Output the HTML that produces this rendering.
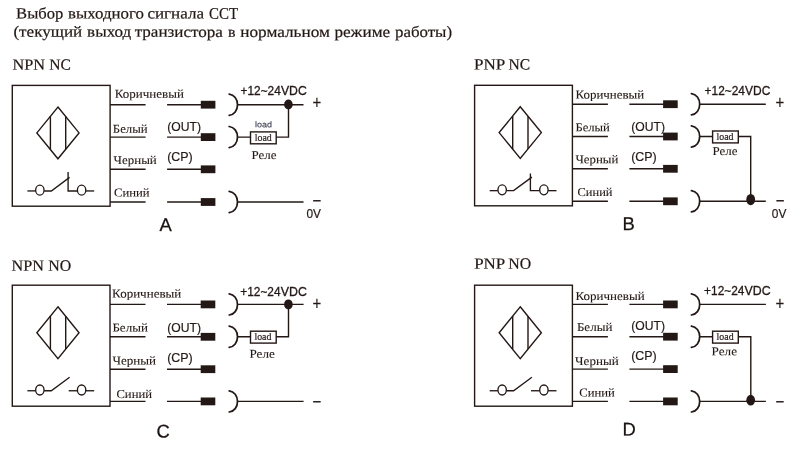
<!DOCTYPE html>
<html lang="ru">
<head>
<meta charset="utf-8">
<title>Выбор выходного сигнала ССТ</title>
<style>
html,body{margin:0;padding:0;background:#fff;}
body{width:800px;height:450px;overflow:hidden;}
svg{display:block;will-change:transform;}
.sf{font-family:"Liberation Serif",serif;}
text.sf{stroke:#231815;stroke-width:0.2px;}
.ss{font-family:"Liberation Sans",sans-serif;stroke:#231815;stroke-width:0.2px;}
text{fill:#231815;stroke:none;}
text.ss{stroke:#231815;}
text.lt{stroke:none;}
text.lb{stroke-width:0.1px;}
text.bd{stroke-width:0.32px;}
text.big{fill:#1a1311;stroke:#1a1311;stroke-width:0.25px;}
text.lu{fill:#45455a;stroke:#45455a;stroke-width:0.15px;}
.blk{fill:#231815;stroke:none;}
</style>
</head>
<body>
<svg width="800" height="450" viewBox="0 0 800 450" stroke="#231815" stroke-width="1.4" stroke-linecap="butt" stroke-linejoin="miter">
<text class="sf" y="18.5" font-size="15.7" transform="matrix(1 0.0005 0 1 0 -0.0083)"><tspan x="16.12" textLength="47.23" lengthAdjust="spacingAndGlyphs">Выбор</tspan> <tspan x="68.1" textLength="75.83" lengthAdjust="spacingAndGlyphs">выходного</tspan> <tspan x="147.45" textLength="56.58" lengthAdjust="spacingAndGlyphs">сигнала</tspan> <tspan x="209.09" textLength="29.06" lengthAdjust="spacingAndGlyphs">ССТ</tspan></text>
<text class="sf" y="36.8" font-size="15.7" transform="matrix(1 0.0005 0 1 0 -0.0071)"><tspan x="13.45" textLength="68.75" lengthAdjust="spacingAndGlyphs">(текущий</tspan> <tspan x="87.1" textLength="44.17" lengthAdjust="spacingAndGlyphs">выход</tspan> <tspan x="134.65" textLength="88.28" lengthAdjust="spacingAndGlyphs">транзистора</tspan> <tspan x="228.11" textLength="7.53" lengthAdjust="spacingAndGlyphs">в</tspan> <tspan x="240.19" textLength="89.71" lengthAdjust="spacingAndGlyphs">нормальном</tspan> <tspan x="334.42" textLength="55.77" lengthAdjust="spacingAndGlyphs">режиме</tspan> <tspan x="395.03" textLength="57.01" lengthAdjust="spacingAndGlyphs">работы)</tspan></text>
<g id="A">
<text class="sf" y="69.7" font-size="15.7" transform="matrix(1 0.0005 0 1 0 -0.0065)"><tspan x="12.53" textLength="32.54" lengthAdjust="spacingAndGlyphs">NPN</tspan> <tspan x="49.25" textLength="21.61" lengthAdjust="spacingAndGlyphs">NC</tspan></text>
<rect x="12.3" y="85.4" width="97.8" height="120.8" fill="none"/>
<path d="M57.95,107 L79.05,132.9 L57.95,158.8 L36.85,132.9 Z" fill="none"/>
<line x1="50.4" y1="116.27" x2="50.4" y2="149.53"/>
<line x1="65.7" y1="116.51" x2="65.7" y2="149.29"/>
<g stroke-width="1.35" fill="none">
<line x1="27.4" y1="190.95" x2="35.5" y2="190.95"/>
<ellipse cx="39.85" cy="190.15" rx="4.2" ry="5"/>
<ellipse cx="81.6" cy="190.15" rx="4.2" ry="5"/>
<line x1="85.9" y1="190.95" x2="94.2" y2="190.95"/>
<path d="M44.2,190.95 L51.3,190.95 L69.6,177.4"/>
<path d="M68.1,172 L68.1,190.95 L77.3,190.95"/>
</g>
<line x1="110.1" y1="104.7" x2="145.6" y2="104.7"/>
<line x1="167.1" y1="104.7" x2="201.6" y2="104.7"/>
<rect class="blk" x="200.8" y="100.8" width="14.6" height="7.8"/>
<line x1="110.1" y1="137.1" x2="145.6" y2="137.1"/>
<line x1="167.1" y1="137.1" x2="201.6" y2="137.1"/>
<rect class="blk" x="200.8" y="133.2" width="14.6" height="7.8"/>
<line x1="110.1" y1="169.3" x2="145.6" y2="169.3"/>
<line x1="167.1" y1="169.3" x2="201.6" y2="169.3"/>
<rect class="blk" x="200.8" y="165.4" width="14.6" height="7.8"/>
<line x1="110.1" y1="202" x2="145.6" y2="202"/>
<line x1="167.1" y1="202" x2="201.6" y2="202"/>
<rect class="blk" x="200.8" y="198.1" width="14.6" height="7.8"/>
<text class="sf lb" x="114.8" y="97.8" font-size="12.0" transform="matrix(1 0.0005 0 1 0 -0.0574)" textLength="69.1" lengthAdjust="spacingAndGlyphs">Коричневый</text>
<text class="sf lb" x="112.8" y="132.8" font-size="12.0" transform="matrix(1 0.0005 0 1 0 -0.0564)" textLength="34.9" lengthAdjust="spacingAndGlyphs">Белый</text>
<text class="sf lb" x="113.6" y="164" font-size="12.0" transform="matrix(1 0.0005 0 1 0 -0.0568)" textLength="43.2" lengthAdjust="spacingAndGlyphs">Черный</text>
<text class="sf lb" x="114" y="196.6" font-size="12.0" transform="matrix(1 0.0005 0 1 0 -0.0570)" textLength="35.6" lengthAdjust="spacingAndGlyphs">Синий</text>
<text class="ss" x="167.25" y="130.7" font-size="13.1" transform="matrix(1 0.0005 0 1 0 -0.0836)" textLength="33.76" lengthAdjust="spacingAndGlyphs">(OUT)</text>
<text class="ss" x="167.23" y="161" font-size="13.1" transform="matrix(1 0.0005 0 1 0 -0.0836)" textLength="25.54" lengthAdjust="spacingAndGlyphs">(CP)</text>
<text class="ss big" x="159.6" y="230.9" font-size="18.4" transform="matrix(1 0.0005 0 1 0 -0.0798)">A</text>
<path d="M229.2,94.1 C234.18,94.6 237.5,99.1 237.5,104.7 C237.5,110.3 234.18,114.8 229.2,115.3" fill="none" stroke-width="1.75" stroke-linecap="round"/>
<path d="M229.2,126.5 C234.18,127 237.5,131.5 237.5,137.1 C237.5,142.7 234.18,147.2 229.2,147.7" fill="none" stroke-width="1.75" stroke-linecap="round"/>
<path d="M229.2,191.4 C234.18,191.9 237.5,196.4 237.5,202 C237.5,207.6 234.18,212.1 229.2,212.6" fill="none" stroke-width="1.75" stroke-linecap="round"/>
<line x1="237.5" y1="104.7" x2="303.5" y2="104.7"/>
<line x1="237.5" y1="202" x2="303.5" y2="202"/>
<path d="M237.5,137.1 L250.5,137.1 M276.2,137.1 L288.5,137.1 L288.5,104.7" fill="none"/>
<rect x="250.5" y="131.9" width="25.7" height="11.9" fill="none"/>
<ellipse class="blk" cx="288.4" cy="104.5" rx="4.3" ry="4.9"/>
<text class="ss bd" y="95" font-size="13.1" transform="matrix(1 0.0005 0 1 0 -0.1206)"><tspan x="240.52" textLength="40.23" lengthAdjust="spacingAndGlyphs">+12~24</tspan><tspan x="280.95" textLength="25.82" lengthAdjust="spacingAndGlyphs">VDC</tspan></text>
<text class="ss" x="312.52" y="109.28" font-size="18.3" transform="matrix(1 0.0005 0 1 0 -0.1563)" textLength="8.76" lengthAdjust="spacingAndGlyphs">+</text>
<text class="ss" x="312.57" y="207.28" font-size="18.3" transform="matrix(1 0.0005 0 1 0 -0.1563)" textLength="8.76" lengthAdjust="spacingAndGlyphs">−</text>
<text class="ss lu" x="255.1" y="127.3" font-size="8.2" transform="matrix(1 0.0005 0 1 0 -0.1275)" textLength="17" lengthAdjust="spacingAndGlyphs">load</text>
<text class="sf" x="254.8" y="140.8" font-size="11.4" transform="matrix(1 0.0005 0 1 0 -0.1274)" textLength="17" lengthAdjust="spacingAndGlyphs">load</text>
<text class="sf lb" x="251.4" y="158.9" font-size="12.0" transform="matrix(1 0.0005 0 1 0 -0.1257)" textLength="25" lengthAdjust="spacingAndGlyphs">Реле</text>
<text class="ss" x="306.39" y="218.2" font-size="13.1" transform="matrix(1 0.0005 0 1 0 -0.1532)" textLength="14.52" lengthAdjust="spacingAndGlyphs">0V</text>
</g>
<g id="B">
<text class="sf" y="69.5" font-size="15.7" transform="matrix(1 0.0005 0 1 0 -0.2373)"><tspan x="474.01" textLength="31.27" lengthAdjust="spacingAndGlyphs">PNP</tspan> <tspan x="508.45" textLength="21.61" lengthAdjust="spacingAndGlyphs">NC</tspan></text>
<rect x="474.6" y="85.3" width="97.8" height="120.5" fill="none"/>
<path d="M520.25,106.7 L541.35,132.6 L520.25,158.5 L499.15,132.6 Z" fill="none"/>
<line x1="512.7" y1="115.97" x2="512.7" y2="149.23"/>
<line x1="528" y1="116.21" x2="528" y2="148.99"/>
<g stroke-width="1.35" fill="none">
<line x1="489.7" y1="190.65" x2="497.8" y2="190.65"/>
<ellipse cx="502.15" cy="189.85" rx="4.2" ry="5"/>
<ellipse cx="543.9" cy="189.85" rx="4.2" ry="5"/>
<line x1="548.2" y1="190.65" x2="556.5" y2="190.65"/>
<path d="M506.5,190.65 L513.6,190.65 L531.9,177.1"/>
<path d="M530.4,173.6 L530.4,190.65 L539.6,190.65"/>
</g>
<line x1="572.4" y1="104.2" x2="607.9" y2="104.2"/>
<line x1="629.4" y1="104.2" x2="663.9" y2="104.2"/>
<rect class="blk" x="663.1" y="100.3" width="14.6" height="7.8"/>
<line x1="572.4" y1="136.5" x2="607.9" y2="136.5"/>
<line x1="629.4" y1="136.5" x2="663.9" y2="136.5"/>
<rect class="blk" x="663.1" y="132.6" width="14.6" height="7.8"/>
<line x1="572.4" y1="168.8" x2="607.9" y2="168.8"/>
<line x1="629.4" y1="168.8" x2="663.9" y2="168.8"/>
<rect class="blk" x="663.1" y="164.9" width="14.6" height="7.8"/>
<line x1="572.4" y1="201.3" x2="607.9" y2="201.3"/>
<line x1="629.4" y1="201.3" x2="663.9" y2="201.3"/>
<rect class="blk" x="663.1" y="197.4" width="14.6" height="7.8"/>
<text class="sf lb" x="575.5" y="98.5" font-size="12.0" transform="matrix(1 0.0005 0 1 0 -0.2878)" textLength="68.7" lengthAdjust="spacingAndGlyphs">Коричневый</text>
<text class="sf lb" x="575.4" y="131.3" font-size="12.0" transform="matrix(1 0.0005 0 1 0 -0.2877)" textLength="34.5" lengthAdjust="spacingAndGlyphs">Белый</text>
<text class="sf lb" x="575.4" y="163.2" font-size="12.0" transform="matrix(1 0.0005 0 1 0 -0.2877)" textLength="43" lengthAdjust="spacingAndGlyphs">Черный</text>
<text class="sf lb" x="577.5" y="196" font-size="12.0" transform="matrix(1 0.0005 0 1 0 -0.2888)" textLength="35" lengthAdjust="spacingAndGlyphs">Синий</text>
<text class="ss" x="631.25" y="130.7" font-size="13.1" transform="matrix(1 0.0005 0 1 0 -0.3156)" textLength="33.76" lengthAdjust="spacingAndGlyphs">(OUT)</text>
<text class="ss" x="631.23" y="161" font-size="13.1" transform="matrix(1 0.0005 0 1 0 -0.3156)" textLength="25.54" lengthAdjust="spacingAndGlyphs">(CP)</text>
<text class="ss big" x="622.5" y="229.9" font-size="18.4" transform="matrix(1 0.0005 0 1 0 -0.3113)">B</text>
<path d="M691.4,93.6 C696.38,94.1 699.7,98.6 699.7,104.2 C699.7,109.8 696.38,114.3 691.4,114.8" fill="none" stroke-width="1.75" stroke-linecap="round"/>
<path d="M691.4,125.9 C696.38,126.4 699.7,130.9 699.7,136.5 C699.7,142.1 696.38,146.6 691.4,147.1" fill="none" stroke-width="1.75" stroke-linecap="round"/>
<path d="M691.4,190.7 C696.38,191.2 699.7,195.7 699.7,201.3 C699.7,206.9 696.38,211.4 691.4,211.9" fill="none" stroke-width="1.75" stroke-linecap="round"/>
<line x1="699.7" y1="104.2" x2="765.8" y2="104.2"/>
<line x1="699.7" y1="201.3" x2="765.8" y2="201.3"/>
<path d="M699.7,136.5 L712.6,136.5 M738.3,136.5 L750.7,136.5 L750.7,201.3" fill="none"/>
<rect x="712.6" y="131" width="25.7" height="11.9" fill="none"/>
<ellipse class="blk" cx="750.7" cy="199.6" rx="4.4" ry="5.65"/>
<text class="ss bd" y="95" font-size="13.1" transform="matrix(1 0.0005 0 1 0 -0.3526)"><tspan x="704.62" textLength="40.23" lengthAdjust="spacingAndGlyphs">+12~24</tspan><tspan x="745.05" textLength="25.31" lengthAdjust="spacingAndGlyphs">VDC</tspan></text>
<text class="ss" x="775.62" y="109.28" font-size="18.3" transform="matrix(1 0.0005 0 1 0 -0.3878)" textLength="8.76" lengthAdjust="spacingAndGlyphs">+</text>
<text class="ss" x="775.67" y="207.08" font-size="18.3" transform="matrix(1 0.0005 0 1 0 -0.3878)" textLength="8.76" lengthAdjust="spacingAndGlyphs">−</text>
<text class="sf" x="716.5" y="139.8" font-size="11.4" transform="matrix(1 0.0005 0 1 0 -0.3583)" textLength="17" lengthAdjust="spacingAndGlyphs">load</text>
<text class="sf lb" x="712.4" y="155" font-size="12.0" transform="matrix(1 0.0005 0 1 0 -0.3562)" textLength="25" lengthAdjust="spacingAndGlyphs">Реле</text>
<text class="ss" x="771.84" y="218.3" font-size="13.1" transform="matrix(1 0.0005 0 1 0 -0.3859)" textLength="14.52" lengthAdjust="spacingAndGlyphs">0V</text>
</g>
<g id="C">
<text class="sf" y="270.7" font-size="15.7" transform="matrix(1 0.0005 0 1 0 -0.0060)"><tspan x="11.63" textLength="32.34" lengthAdjust="spacingAndGlyphs">NPN</tspan> <tspan x="48.34" textLength="23.01" lengthAdjust="spacingAndGlyphs">NO</tspan></text>
<rect x="12.3" y="285.2" width="97.7" height="121" fill="none"/>
<path d="M57.95,306.8 L79.05,332.7 L57.95,358.6 L36.85,332.7 Z" fill="none"/>
<line x1="50.4" y1="316.07" x2="50.4" y2="349.33"/>
<line x1="65.7" y1="316.31" x2="65.7" y2="349.09"/>
<g stroke-width="1.35" fill="none">
<line x1="27.4" y1="390.75" x2="35.5" y2="390.75"/>
<ellipse cx="39.85" cy="389.95" rx="4.2" ry="5"/>
<ellipse cx="81.6" cy="389.95" rx="4.2" ry="5"/>
<line x1="85.9" y1="390.75" x2="94.2" y2="390.75"/>
<path d="M44.2,390.75 L51.3,390.75 L69.6,377.2"/>
<line x1="68.7" y1="390.75" x2="77.3" y2="390.75"/>
</g>
<line x1="110" y1="304.4" x2="145.5" y2="304.4"/>
<line x1="167" y1="304.4" x2="201.5" y2="304.4"/>
<rect class="blk" x="200.7" y="300.5" width="14.6" height="7.8"/>
<line x1="110" y1="336.8" x2="145.5" y2="336.8"/>
<line x1="167" y1="336.8" x2="201.5" y2="336.8"/>
<rect class="blk" x="200.7" y="332.9" width="14.6" height="7.8"/>
<line x1="110" y1="369.2" x2="145.5" y2="369.2"/>
<line x1="167" y1="369.2" x2="201.5" y2="369.2"/>
<rect class="blk" x="200.7" y="365.3" width="14.6" height="7.8"/>
<line x1="110" y1="401.4" x2="145.5" y2="401.4"/>
<line x1="167" y1="401.4" x2="201.5" y2="401.4"/>
<rect class="blk" x="200.7" y="397.5" width="14.6" height="7.8"/>
<text class="sf lb" x="112.1" y="297.6" font-size="12.0" transform="matrix(1 0.0005 0 1 0 -0.0560)" textLength="69.2" lengthAdjust="spacingAndGlyphs">Коричневый</text>
<text class="sf lb" x="112.4" y="331.6" font-size="12.0" transform="matrix(1 0.0005 0 1 0 -0.0562)" textLength="35.5" lengthAdjust="spacingAndGlyphs">Белый</text>
<text class="sf lb" x="112.4" y="364.6" font-size="12.0" transform="matrix(1 0.0005 0 1 0 -0.0562)" textLength="43.6" lengthAdjust="spacingAndGlyphs">Черный</text>
<text class="sf lb" x="116.4" y="397.9" font-size="12.0" transform="matrix(1 0.0005 0 1 0 -0.0582)" textLength="35.6" lengthAdjust="spacingAndGlyphs">Синий</text>
<text class="ss" x="167.25" y="331.7" font-size="13.1" transform="matrix(1 0.0005 0 1 0 -0.0836)" textLength="33.76" lengthAdjust="spacingAndGlyphs">(OUT)</text>
<text class="ss" x="167.23" y="361.8" font-size="13.1" transform="matrix(1 0.0005 0 1 0 -0.0836)" textLength="25.54" lengthAdjust="spacingAndGlyphs">(CP)</text>
<text class="ss big" x="156.4" y="437.5" font-size="18.4" transform="matrix(1 0.0005 0 1 0 -0.0782)">C</text>
<path d="M229.2,293.8 C234.18,294.3 237.5,298.8 237.5,304.4 C237.5,310 234.18,314.5 229.2,315" fill="none" stroke-width="1.75" stroke-linecap="round"/>
<path d="M229.2,326.2 C234.18,326.7 237.5,331.2 237.5,336.8 C237.5,342.4 234.18,346.9 229.2,347.4" fill="none" stroke-width="1.75" stroke-linecap="round"/>
<path d="M229.2,390.8 C234.18,391.3 237.5,395.8 237.5,401.4 C237.5,407 234.18,411.5 229.2,412" fill="none" stroke-width="1.75" stroke-linecap="round"/>
<line x1="237.5" y1="304.4" x2="303.6" y2="304.4"/>
<line x1="237.5" y1="401.4" x2="303.6" y2="401.4"/>
<path d="M237.5,336.8 L250.5,336.8 M276.2,336.8 L288.5,336.8 L288.5,304.4" fill="none"/>
<rect x="250.5" y="331.2" width="25.7" height="11.9" fill="none"/>
<ellipse class="blk" cx="288.4" cy="304.4" rx="4.3" ry="5"/>
<text class="ss bd" y="296" font-size="13.1" transform="matrix(1 0.0005 0 1 0 -0.1205)"><tspan x="240.32" textLength="40.23" lengthAdjust="spacingAndGlyphs">+12~24</tspan><tspan x="280.75" textLength="26.13" lengthAdjust="spacingAndGlyphs">VDC</tspan></text>
<text class="ss" x="312.52" y="310.38" font-size="18.3" transform="matrix(1 0.0005 0 1 0 -0.1563)" textLength="8.76" lengthAdjust="spacingAndGlyphs">+</text>
<text class="ss" x="312.52" y="408.48" font-size="18.3" transform="matrix(1 0.0005 0 1 0 -0.1563)" textLength="8.76" lengthAdjust="spacingAndGlyphs">−</text>
<text class="sf" x="254.4" y="340" font-size="11.4" transform="matrix(1 0.0005 0 1 0 -0.1272)" textLength="17" lengthAdjust="spacingAndGlyphs">load</text>
<text class="sf lb" x="249.4" y="357.8" font-size="12.0" transform="matrix(1 0.0005 0 1 0 -0.1247)" textLength="25.4" lengthAdjust="spacingAndGlyphs">Реле</text>
</g>
<g id="D">
<text class="sf" y="268.7" font-size="15.7" transform="matrix(1 0.0005 0 1 0 -0.2374)"><tspan x="474.21" textLength="31.07" lengthAdjust="spacingAndGlyphs">PNP</tspan> <tspan x="508.34" textLength="22.91" lengthAdjust="spacingAndGlyphs">NO</tspan></text>
<rect x="474.6" y="285.2" width="97.8" height="121" fill="none"/>
<path d="M520.25,306.8 L541.35,332.7 L520.25,358.6 L499.15,332.7 Z" fill="none"/>
<line x1="512.7" y1="316.07" x2="512.7" y2="349.33"/>
<line x1="528" y1="316.31" x2="528" y2="349.09"/>
<g stroke-width="1.35" fill="none">
<line x1="489.7" y1="390.75" x2="497.8" y2="390.75"/>
<ellipse cx="502.15" cy="389.95" rx="4.2" ry="5"/>
<ellipse cx="543.9" cy="389.95" rx="4.2" ry="5"/>
<line x1="548.2" y1="390.75" x2="556.5" y2="390.75"/>
<path d="M506.5,390.75 L513.6,390.75 L531.9,377.2"/>
<line x1="531" y1="390.75" x2="539.6" y2="390.75"/>
</g>
<line x1="572.4" y1="304.4" x2="607.9" y2="304.4"/>
<line x1="629.4" y1="304.4" x2="663.9" y2="304.4"/>
<rect class="blk" x="663.1" y="300.5" width="14.6" height="7.8"/>
<line x1="572.4" y1="336.7" x2="607.9" y2="336.7"/>
<line x1="629.4" y1="336.7" x2="663.9" y2="336.7"/>
<rect class="blk" x="663.1" y="332.8" width="14.6" height="7.8"/>
<line x1="572.4" y1="369.1" x2="607.9" y2="369.1"/>
<line x1="629.4" y1="369.1" x2="663.9" y2="369.1"/>
<rect class="blk" x="663.1" y="365.2" width="14.6" height="7.8"/>
<line x1="572.4" y1="401.4" x2="607.9" y2="401.4"/>
<line x1="629.4" y1="401.4" x2="663.9" y2="401.4"/>
<rect class="blk" x="663.1" y="397.5" width="14.6" height="7.8"/>
<text class="sf lb" x="575.5" y="299.9" font-size="12.0" transform="matrix(1 0.0005 0 1 0 -0.2878)" textLength="69.2" lengthAdjust="spacingAndGlyphs">Коричневый</text>
<text class="sf lb" x="576.9" y="331.1" font-size="12.0" transform="matrix(1 0.0005 0 1 0 -0.2884)" textLength="35.5" lengthAdjust="spacingAndGlyphs">Белый</text>
<text class="sf lb" x="575.1" y="365" font-size="12.0" transform="matrix(1 0.0005 0 1 0 -0.2876)" textLength="43.6" lengthAdjust="spacingAndGlyphs">Черный</text>
<text class="sf lb" x="579.3" y="396.6" font-size="12.0" transform="matrix(1 0.0005 0 1 0 -0.2896)" textLength="35.6" lengthAdjust="spacingAndGlyphs">Синий</text>
<text class="ss" x="631.25" y="330.45" font-size="13.1" transform="matrix(1 0.0005 0 1 0 -0.3156)" textLength="33.76" lengthAdjust="spacingAndGlyphs">(OUT)</text>
<text class="ss" x="631.23" y="360.2" font-size="13.1" transform="matrix(1 0.0005 0 1 0 -0.3156)" textLength="25.54" lengthAdjust="spacingAndGlyphs">(CP)</text>
<text class="ss big" x="622.6" y="435.6" font-size="18.4" transform="matrix(1 0.0005 0 1 0 -0.3113)">D</text>
<path d="M691.4,293.8 C696.38,294.3 699.7,298.8 699.7,304.4 C699.7,310 696.38,314.5 691.4,315" fill="none" stroke-width="1.75" stroke-linecap="round"/>
<path d="M691.4,326.1 C696.38,326.6 699.7,331.1 699.7,336.7 C699.7,342.3 696.38,346.8 691.4,347.3" fill="none" stroke-width="1.75" stroke-linecap="round"/>
<path d="M691.4,390.8 C696.38,391.3 699.7,395.8 699.7,401.4 C699.7,407 696.38,411.5 691.4,412" fill="none" stroke-width="1.75" stroke-linecap="round"/>
<line x1="699.7" y1="304.4" x2="765.9" y2="304.4"/>
<line x1="699.7" y1="401.4" x2="765.9" y2="401.4"/>
<path d="M699.7,336.7 L712.6,336.7 M738.3,336.7 L750.8,336.7 L750.8,401.4" fill="none"/>
<rect x="712.6" y="331.2" width="25.7" height="11.9" fill="none"/>
<ellipse class="blk" cx="750.7" cy="400.2" rx="4.4" ry="5.4"/>
<text class="ss bd" y="294.6" font-size="13.1" transform="matrix(1 0.0005 0 1 0 -0.3523)"><tspan x="704.12" textLength="40.23" lengthAdjust="spacingAndGlyphs">+12~24</tspan><tspan x="744.55" textLength="26.13" lengthAdjust="spacingAndGlyphs">VDC</tspan></text>
<text class="ss" x="775.62" y="310.38" font-size="18.3" transform="matrix(1 0.0005 0 1 0 -0.3878)" textLength="8.76" lengthAdjust="spacingAndGlyphs">+</text>
<text class="ss" x="775.62" y="408.48" font-size="18.3" transform="matrix(1 0.0005 0 1 0 -0.3878)" textLength="8.76" lengthAdjust="spacingAndGlyphs">−</text>
<text class="sf" x="716.6" y="340.4" font-size="11.4" transform="matrix(1 0.0005 0 1 0 -0.3583)" textLength="17" lengthAdjust="spacingAndGlyphs">load</text>
<text class="sf lb" x="711.6" y="355.3" font-size="12.0" transform="matrix(1 0.0005 0 1 0 -0.3558)" textLength="25.4" lengthAdjust="spacingAndGlyphs">Реле</text>
</g>
</svg>
</body>
</html>
